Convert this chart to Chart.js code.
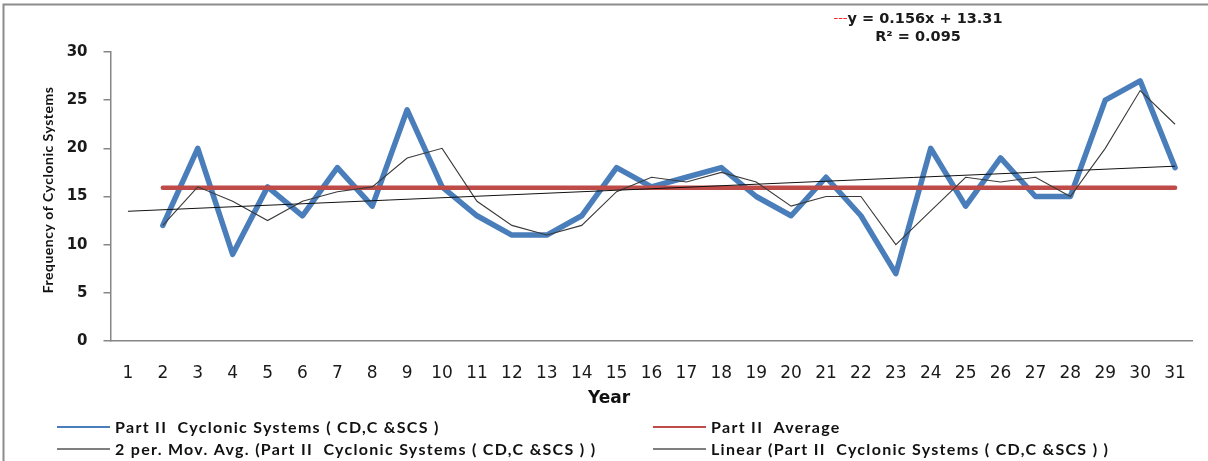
<!DOCTYPE html>
<html>
<head>
<meta charset="utf-8">
<title>Part II Cyclonic Systems</title>
<script src="https://cdn.jsdelivr.net/npm/chart.js@4.4.1/dist/chart.umd.min.js"></script>
<style>
  html, body { margin: 0; padding: 0; background: #ffffff; }
  #wrap { width: 1208px; height: 461px; }
</style>
</head>
<body>
<div id="wrap"><canvas id="chart" width="1208" height="461"></canvas></div>
<script>
// Years 1..31 along the category axis
const years = ['1','2','3','4','5','6','7','8','9','10','11','12','13','14','15','16',
               '17','18','19','20','21','22','23','24','25','26','27','28','29','30','31'];

// Frequency of cyclonic systems (CD, C & SCS); no record for year 1
const cyclonicSystems = [null, 12, 20, 9, 16, 13, 18, 14, 24, 16, 13, 11, 11, 13, 18, 16,
                         17, 18, 15, 13, 17, 13, 7, 20, 14, 19, 15, 15, 25, 27, 18];

// Long-period average of the series
const partAverage = [null, 15.9, 15.9, 15.9, 15.9, 15.9, 15.9, 15.9, 15.9, 15.9, 15.9, 15.9,
                     15.9, 15.9, 15.9, 15.9, 15.9, 15.9, 15.9, 15.9, 15.9, 15.9, 15.9, 15.9,
                     15.9, 15.9, 15.9, 15.9, 15.9, 15.9, 15.9];

// 2-period moving average
const movingAvg2 = [null, 12, 16, 14.5, 12.5, 14.5, 15.5, 16, 19, 20, 14.5, 12, 11, 12, 15.5, 17,
                    16.5, 17.5, 16.5, 14, 15, 15, 10, 13.5, 17, 16.5, 17, 15, 20, 26, 22.5];

// Linear trend as given by its equation y = 0.156x + 13.31 (R² = 0.095)
const trendSlope = 0.156;
const trendIntercept = 13.31;
const trendR2 = '0.095';
const trendLine = years.map((y, i) =>
  (i === 0 || i === years.length - 1) ? trendSlope * Number(y) + trendIntercept : null);

const yTicks = [0, 5, 10, 15, 20, 25, 30];

const seriesNames = {
  blue: 'Part II  Cyclonic Systems ( CD,C &SCS )',
  avg: 'Part II  Average',
  ma: '2 per. Mov. Avg. (Part II  Cyclonic Systems ( CD,C &SCS ) )',
  lin: 'Linear (Part II  Cyclonic Systems ( CD,C &SCS ) )'
};

const COLORS = { blue: '#4a7ebb', red: '#be4b48', ma: '#3a3a3a', lin: '#111111', axis: '#868686' };

// Frame, equation, axis titles and the two-column legend
const decorations = {
  id: 'decorations',
  afterDraw(chart) {
    const ctx = chart.ctx;
    ctx.save();

    // outer frame
    ctx.strokeStyle = '#8c8c8c';
    ctx.lineWidth = 2;
    ctx.beginPath();
    ctx.moveTo(3.5, 461);
    ctx.lineTo(3.5, 4.5);
    ctx.lineTo(1208, 4.5);
    ctx.stroke();

    // trendline equation
    ctx.textBaseline = 'middle';
    const eq = 'y = ' + trendSlope + 'x + ' + trendIntercept;
    ctx.font = '13px "DejaVu Sans"';
    const dashW = ctx.measureText('---').width;
    ctx.font = 'bold 14.5px "DejaVu Sans"';
    const eqW = ctx.measureText(eq).width;
    const cx = 918;
    const x0 = cx - (dashW + eqW) / 2;
    ctx.textAlign = 'left';
    ctx.font = '13px "DejaVu Sans"';
    ctx.fillStyle = '#ff2020';
    ctx.fillText('---', x0, 19);
    ctx.font = 'bold 14.5px "DejaVu Sans"';
    ctx.fillStyle = '#1a1a1a';
    ctx.fillText(eq, x0 + dashW, 19);
    ctx.textAlign = 'center';
    ctx.fillText('R\u00B2 = ' + trendR2, cx, 37);

    // y axis title
    ctx.save();
    ctx.translate(48, 190);
    ctx.rotate(-Math.PI / 2);
    ctx.font = 'bold 14px Lato';
    ctx.letterSpacing = '0.5px';
    ctx.fillStyle = '#111111';
    ctx.textAlign = 'center';
    ctx.fillText('Frequency of Cyclonic Systems', 0, 0);
    ctx.restore();

    // x axis title
    ctx.font = 'bold 17px "DejaVu Sans"';
    ctx.fillStyle = '#111111';
    ctx.textAlign = 'center';
    ctx.fillText('Year', 609, 399);

    // legend
    const items = [
      { name: seriesNames.blue, color: COLORS.blue, w: 2, x: 57, y: 427 },
      { name: seriesNames.avg, color: COLORS.red, w: 2, x: 653, y: 427 },
      { name: seriesNames.ma, color: '#555555', w: 1.5, x: 57, y: 449 },
      { name: seriesNames.lin, color: '#555555', w: 1.5, x: 653, y: 449 }
    ];
    ctx.textAlign = 'left';
    ctx.font = 'bold 16px Lato';
    ctx.letterSpacing = '1.3px';
    items.forEach(it => {
      ctx.strokeStyle = it.color;
      ctx.lineWidth = it.w;
      ctx.beginPath();
      ctx.moveTo(it.x, it.y);
      ctx.lineTo(it.x + 53, it.y);
      ctx.stroke();
      ctx.fillStyle = '#111111';
      ctx.fillText(it.name, it.x + 58, it.y + 1);
    });

    ctx.restore();
  }
};

new Chart(document.getElementById('chart'), {
  type: 'line',
  data: {
    labels: years,
    datasets: [
      { label: seriesNames.lin, data: trendLine, spanGaps: true,
        borderColor: COLORS.lin, borderWidth: 1, pointRadius: 0 },
      { label: seriesNames.ma, data: movingAvg2,
        borderColor: COLORS.ma, borderWidth: 1.1, pointRadius: 0 },
      { label: seriesNames.avg, data: partAverage,
        borderColor: COLORS.red, borderWidth: 4.5, pointRadius: 0, borderCapStyle: 'round' },
      { label: seriesNames.blue, data: cyclonicSystems,
        borderColor: COLORS.blue, borderWidth: 5.5, pointRadius: 0,
        borderJoinStyle: 'round', borderCapStyle: 'round' }
    ]
  },
  options: {
    responsive: false,
    devicePixelRatio: 1,
    animation: false,
    events: [],
    layout: { padding: { top: 52, right: 7.4, bottom: 0, left: 0 } },
    plugins: {
      legend: { display: false },
      tooltip: { enabled: false },
      title: { display: false }
    },
    elements: { line: { tension: 0 } },
    scales: {
      x: {
        type: 'category',
        offset: true,
        grid: { display: false, drawTicks: false },
        border: { display: true, color: COLORS.axis, width: 1.5 },
        ticks: {
          color: '#1a1a1a',
          font: { family: '"DejaVu Sans"', size: 17 },
          padding: 22,
          maxRotation: 0,
          autoSkip: false
        },
        afterFit(scale) { scale.height = 120; }
      },
      y: {
        min: 0,
        max: 30,
        afterBuildTicks(scale) { scale.ticks = yTicks.map(v => ({ value: v })); },
        grid: { display: true, drawOnChartArea: false, drawTicks: true, tickLength: 7,
                color: COLORS.axis, lineWidth: 1.5 },
        border: { display: true, color: COLORS.axis, width: 1.5 },
        ticks: {
          color: '#1a1a1a',
          font: { family: '"DejaVu Sans"', size: 15, weight: 'bold' },
          padding: 16
        },
        afterFit(scale) { scale.width = 110.5; }
      }
    }
  },
  plugins: [decorations]
});
</script>
</body>
</html>
